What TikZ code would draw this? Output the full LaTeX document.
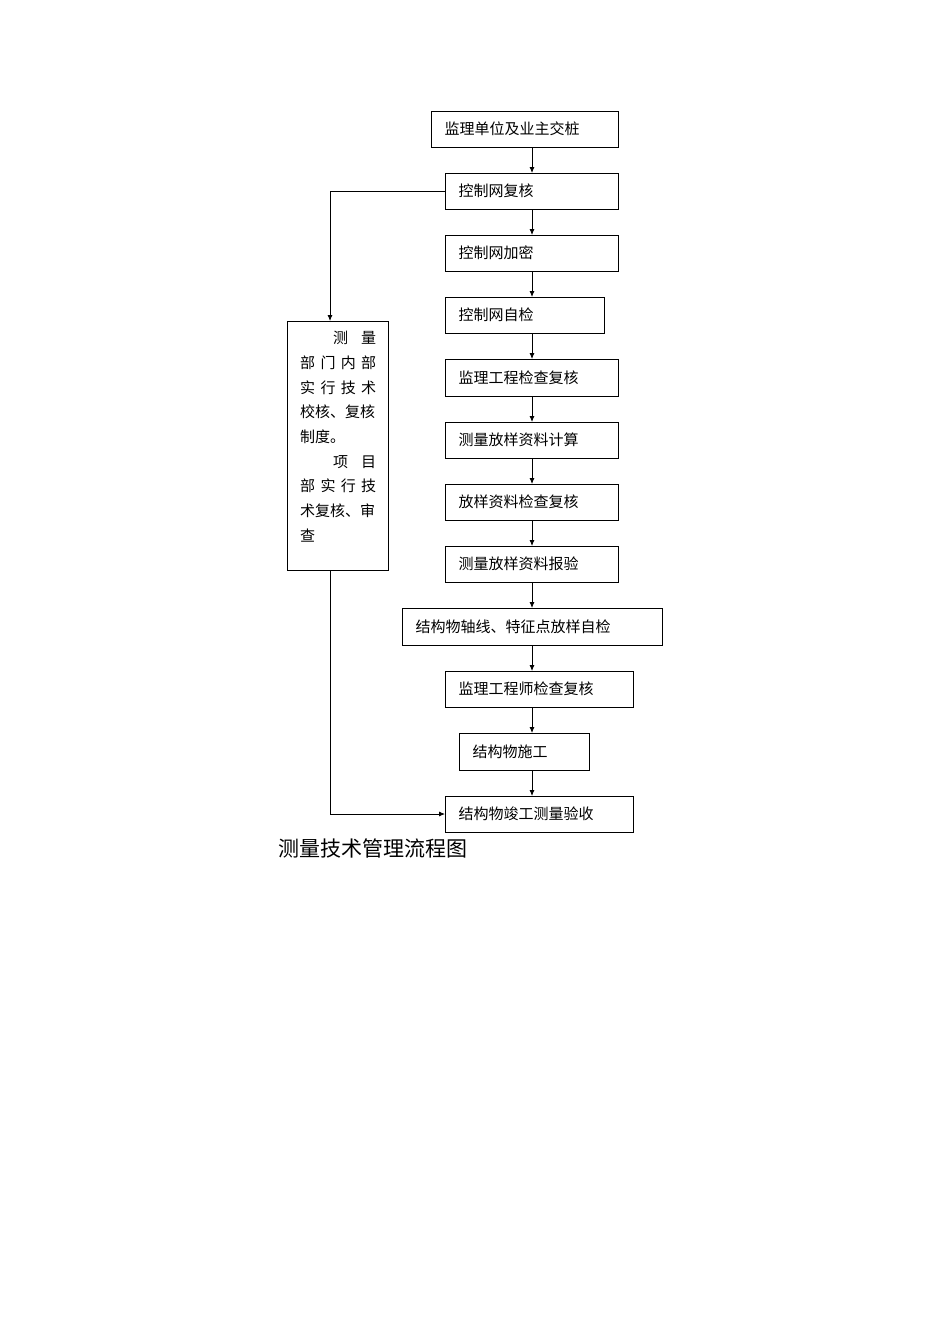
\documentclass[tikz,border=0pt]{standalone}
\usepackage{fontspec}
\newfontfamily\cjk{Noto Sans CJK SC}
\usetikzlibrary{arrows.meta}
\begin{document}
\begin{tikzpicture}[x=1pt,y=-1pt,
  bx/.style={draw,line width=1pt},
  arr/.style={draw,line width=0.8pt,-{Latex[length=6pt,width=5pt]}},
  lbl/.style={font=\cjk\fontsize{15}{18}\selectfont,anchor=west}]
\useasboundingbox (0,0) rectangle (950,1344);
\fill[white] (0,0) rectangle (950,1344);
\def\B#1#2#3#4#5#6{\draw[bx] (#2,#3) rectangle (#4,#5); \coordinate (#1t) at (532,#3); \coordinate (#1b) at (532,#5); \coordinate (#1l) at (#2,{(#3+#5)/2}); \node[lbl] (#1n) at ({#2+10},{(#3+#5)/2}) {#6};}
\B{a}{431}{111}{618}{147}{监理单位及业主交桩}
\B{b}{445}{173}{618}{209}{控制网复核}
\B{c}{445}{235}{618}{271}{控制网加密}
\B{d}{445}{297}{604}{333}{控制网自检}
\B{e}{445}{359}{618}{396}{监理工程检查复核}
\B{f}{445}{422}{618}{458}{测量放样资料计算}
\B{g}{445}{484}{618}{520}{放样资料检查复核}
\B{h}{445}{546}{618}{582}{测量放样资料报验}
\B{i}{402}{608}{662}{645}{结构物轴线、特征点放样自检}
\B{j}{445}{671}{633}{707}{监理工程师检查复核}
\B{k}{459}{733}{589}{770}{结构物施工}
\B{m}{445}{796}{633}{832}{结构物竣工测量验收}
\draw[arr] (ab) -- (bt);
\draw[arr] (bb) -- (ct);
\draw[arr] (cb) -- (dt);
\draw[arr] (db) -- (et);
\draw[arr] (eb) -- (ft);
\draw[arr] (fb) -- (gt);
\draw[arr] (gb) -- (ht);
\draw[arr] (hb) -- (it);
\draw[arr] (ib) -- (jt);
\draw[arr] (jb) -- (kt);
\draw[arr] (kb) -- (mt);
\draw[bx] (287,321) rectangle (388,570);
\coordinate (lt) at (330,321); \coordinate (lb) at (330,570);
\node[font=\cjk\fontsize{15}{24.7}\selectfont,align=left,anchor=north west,inner sep=0] (side) at (300,331) {%
\hspace*{33pt}\makebox[43pt][s]{测\hfill 量}\\
\makebox[76pt][s]{部\hfill 门\hfill 内\hfill 部}\\
\makebox[76pt][s]{实\hfill 行\hfill 技\hfill 术}\\
\makebox[76pt][s]{校核、复核}\\
制度。\\
\hspace*{33pt}\makebox[43pt][s]{项\hfill 目}\\
\makebox[76pt][s]{部\hfill 实\hfill 行\hfill 技}\\
\makebox[76pt][s]{术复核、审}\\
查};
\draw[arr] (bl) -| (lt);
\draw[arr] (lb) |- (ml);
\node[font=\cjk\fontsize{21}{24}\selectfont,anchor=west,inner sep=0] (cap) at (278,848) {测量技术管理流程图};
\end{tikzpicture}
\end{document}
